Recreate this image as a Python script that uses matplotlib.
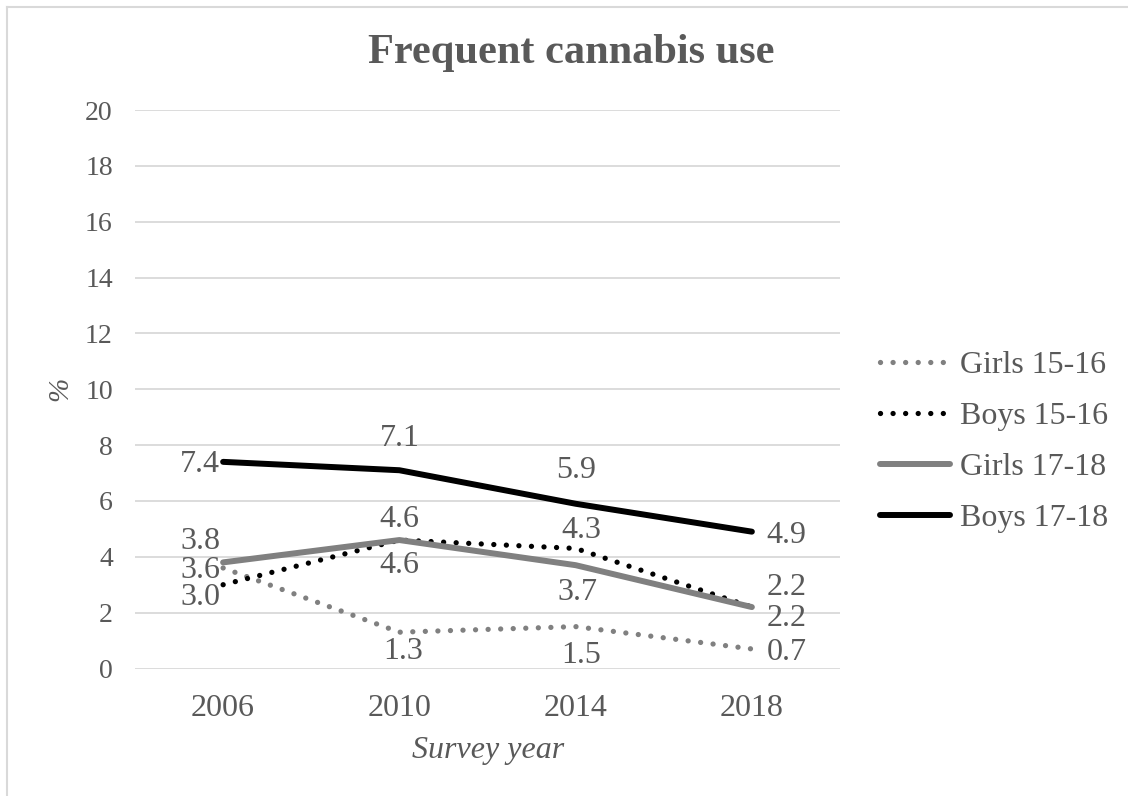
import matplotlib
matplotlib.use("Agg")
import matplotlib.pyplot as plt
from matplotlib.lines import Line2D

years = ["2006", "2010", "2014", "2018"]
series_names = ["Girls 15-16", "Boys 15-16", "Girls 17-18", "Boys 17-18"]
girls_15_16 = [3.6, 1.3, 1.5, 0.7]
boys_15_16 = [3.0, 4.6, 4.3, 2.2]
girls_17_18 = [3.8, 4.6, 3.7, 2.2]
boys_17_18 = [7.4, 7.1, 5.9, 4.9]
y_ticks = [0, 2, 4, 6, 8, 10, 12, 14, 16, 18, 20]

plt.rcParams['font.family'] = ['Liberation Serif', 'DejaVu Serif']
TXT = '#595959'
GRID = '#d9d9d9'

W, H = 1128, 796
fig = plt.figure(figsize=(W / 100, H / 100), dpi=100)
ax = fig.add_axes([135 / W, 1 - 668.5 / H, (840 - 135) / W, (668.5 - 110) / H])

dot = (0, (0.01, 2.37))
styles = [
    dict(color='#808080', ls=dot, lw=3.8, dash_capstyle='round'),
    dict(color='#000000', ls=dot, lw=3.8, dash_capstyle='round'),
    dict(color='#808080', ls='-', lw=4.3, solid_capstyle='round'),
    dict(color='#000000', ls='-', lw=4.3, solid_capstyle='round'),
]
data = [girls_15_16, boys_15_16, girls_17_18, boys_17_18]

# label offsets in points (dx, dy) for each series/point
offsets = [
    [(-16.5, 0), (3, -12), (4, -19), (25, -0.7)],
    [(-16.5, -7), (0, 16.5), (4, 15), (25, 16)],
    [(-16.5, 17), (0, -16.5), (1.5, -18), (25, -6)],
    [(-16.5, 0), (0, 25), (0.7, 26), (25, -0.7)],
]

x = list(range(len(years)))
for name, vals, st, offs in zip(series_names, data, styles, offsets):
    ax.plot(x, vals, label=name, **st)
    for xi, v, (dx, dy) in zip(x, vals, offs):
        ax.annotate(f"{v:.1f}", (xi, v), xytext=(dx, dy - 2), textcoords='offset points',
                    ha='center', va='center', fontsize=23, color=TXT)

ax.set_xlim(-0.5, 3.5)
ax.set_ylim(0, 20)
ax.set_yticks(y_ticks)
ax.set_xticks(x)
ax.set_xticklabels(years)
ax.grid(axis='y', color=GRID, lw=1.3)
ax.set_axisbelow(True)
for s in ax.spines.values():
    s.set_visible(False)
ax.tick_params(axis='both', length=0, colors=TXT)
ax.tick_params(axis='y', labelsize=20, pad=16)
ax.tick_params(axis='x', labelsize=23, pad=18)

fig.text(571 / W, 1 - 53 / H, "Frequent cannabis use", ha='center', va='center',
         fontsize=30.5, fontweight='bold', color=TXT)
fig.text(60 / W, 1 - 389 / H, "%", rotation=90, ha='center', va='center',
         fontsize=21, style='italic', color=TXT)
fig.text(488 / W, 1 - 758 / H, "Survey year", ha='center', va='baseline',
         fontsize=23, style='italic', color=TXT)

leg = ax.legend(loc='center left', bbox_to_anchor=(880 / W, 1 - 442 / H),
                bbox_transform=fig.transFigure, frameon=False, fontsize=23,
                handlelength=2.2, handletextpad=0.3, labelspacing=0.68,
                borderpad=0, borderaxespad=0)
for t in leg.get_texts():
    t.set_color(TXT)

fig.add_artist(Line2D([7 / W, 7 / W], [0, 1 - 7 / H], transform=fig.transFigure, color=GRID, lw=1.5))
fig.add_artist(Line2D([7 / W, 1], [1 - 7 / H, 1 - 7 / H], transform=fig.transFigure, color=GRID, lw=1.5))

fig.savefig("out.png", dpi=100)
